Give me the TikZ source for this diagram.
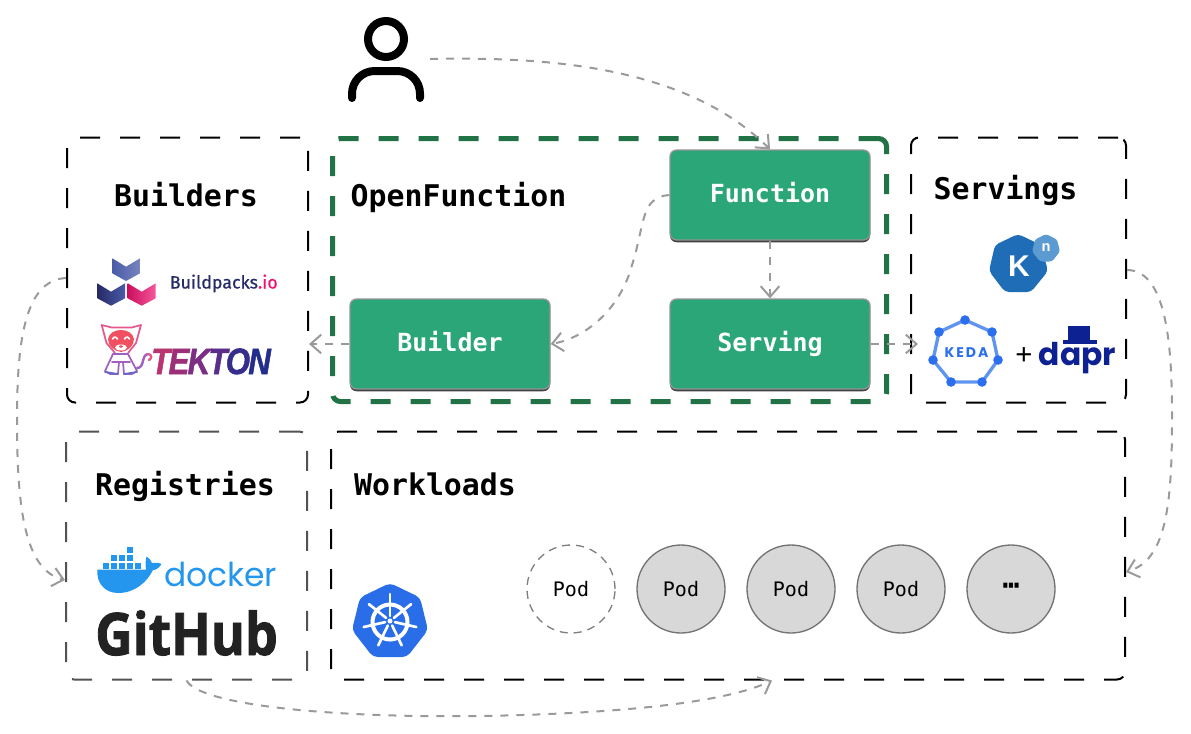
\documentclass[tikz,border=0pt]{standalone}
\usepackage{fontspec}
\setmainfont{DejaVu Sans}
\setmonofont{DejaVu Sans Mono}
\newfontfamily\popp{Poppins}
\newfontfamily\fira[FakeBold=0.6]{Fira Sans}
\newfontfamily\opens{Open Sans}
\newfontfamily\ghf[BoldFeatures={FakeBold=1.6}]{Open Sans}
\newfontfamily\libs{Liberation Sans}
\newfontfamily\tekf[BoldItalicFeatures={FakeBold=1.5}]{Liberation Sans}
\usetikzlibrary{arrows.meta,shadows}
\definecolor{greenfill}{HTML}{2BA678}
\definecolor{greendash}{HTML}{217346}
\definecolor{flowgray}{HTML}{9A9A9A}
\definecolor{podgray}{HTML}{D8D8D8}
\definecolor{kblue}{HTML}{2A6DE8}
\definecolor{knblue}{HTML}{1F6DB6}
\definecolor{knlight}{HTML}{5B9BD2}
\definecolor{kedadot}{HTML}{2C6FEE}
\definecolor{kedaline}{HTML}{5F95EE}
\definecolor{daprblue}{HTML}{0D2192}
\definecolor{dockerblue}{HTML}{2496ED}
\definecolor{ghblack}{HTML}{222222}
\definecolor{bpnavy}{HTML}{262A66}
\definecolor{bpmid}{HTML}{4A5BA8}
\definecolor{bppink}{HTML}{F0106F}
\definecolor{catpink}{HTML}{E4588C}
\definecolor{catred}{HTML}{F0505F}
\definecolor{catviolet}{HTML}{A060C0}
\definecolor{catblue}{HTML}{6468C8}
\tikzset{
  region/.style={draw=black,line width=1.5pt,dash pattern=on 15pt off 15pt,rounded corners=6pt,inner sep=0pt,anchor=north west},
  title/.style={font=\ttfamily\bfseries\fontsize{22.4}{24}\selectfont,inner sep=0pt,text height=15pt,text depth=0pt},
  task/.style={draw=black!42,line width=1pt,fill=greenfill,rounded corners=5pt,minimum width=150pt,minimum height=67.5pt,
    text=white,font=\ttfamily\bfseries\fontsize{18.7}{20}\selectfont,text height=10.5pt,text depth=0pt,
    drop shadow={shadow xshift=0pt,shadow yshift=-1.7pt,fill=black!75,opacity=1}},
  pod/.style={circle,draw=black!55,line width=1pt,fill=podgray,minimum size=66pt,inner sep=0pt,font=\ttfamily\fontsize{15}{16}\selectfont},
  flow/.style={draw=flowgray,line width=1.5pt,dash pattern=on 6pt off 6pt,-{Straight Barb[length=8pt,width=14pt,line width=1.5pt]}},
  person/.style={draw=black,line width=6pt,line cap=round},
}
\begin{document}
\begin{tikzpicture}[x=0.75pt,y=-0.75pt]
\useasboundingbox (0,0) rectangle (1191,733);
% regions
\node[region,minimum width=180.75pt,minimum height=198.75pt] (builders) at (66,136.5) {};
\node[region,minimum width=161.25pt,minimum height=198.75pt] (servings) at (910,136.5) {};
\node[region,draw=black!68,minimum width=180.75pt,minimum height=186pt] (registries) at (65,430.5) {};
\node[region,minimum width=595.5pt,minimum height=186pt] (workloads) at (330,430.5) {};
\node[region,draw=greendash,line width=3.8pt,minimum width=415.5pt,minimum height=197.25pt] (openfunction) at (330,136) {};
% person
\draw[person] (386,39) circle[radius=18];
\draw[person,rounded corners=17pt] (352,98) -- (352,71) -- (420,71) -- (420,98);
\coordinate (personout) at (430,59);
% titles
\node[title] (tbuilders) at (186,196) {Builders};
\node[title] (topenfunction) at (458.5,196) {OpenFunction};
\node[title] (tservings) at (1005.5,189) {Servings};
\node[title] (tregistries) at (185,485) {Registries};
\node[title] (tworkloads) at (435,485) {Workloads};
% green tasks
\node[task] (function) at (770,195) {Function};
\node[task] (serving) at (770,344) {Serving};
\node[task] (builder) at (450,344) {Builder};
% connectors
\draw[flow] (personout) .. controls (560,56) and (690,70) .. (function.north);
\draw[flow] (function.west) .. controls (640,197) and (645,225) .. (632,265) .. controls (620,310) and (585,338) .. (builder.east);
\draw[flow] (function.south) -- (serving.north);
\draw[flow] (builder.west) -- (builders.east |- builder.west);
\draw[flow] (serving.east) -- ([xshift=6pt]servings.west |- serving.east);
\draw[flow] ([yshift=-6pt]builders.west) .. controls (25,280) and (17,340) .. (17,420) .. controls (17,510) and (25,570) .. (registries.west |- 0,580);
\draw[flow] (servings.east) .. controls (1170,270) and (1172,360) .. (1172,420) .. controls (1172,510) and (1165,560) .. (workloads.east |- 0,572);
\draw[flow] (registries.south) .. controls (200,705) and (330,718) .. (480,716) .. controls (600,714) and (720,705) .. (workloads.south -| 772,0);
% pods
\node[pod,fill=white,draw=black!50,dash pattern=on 6pt off 4.5pt] (pod1) at (571,589) {Pod};
\node[pod] (pod2) at (681,589) {Pod};
\node[pod] (pod3) at (791,589) {Pod};
\node[pod] (pod4) at (901,589) {Pod};
\node[pod,font=\ttfamily\bfseries\fontsize{21}{22}\selectfont] (pod5) at (1011,589) {\raisebox{-1.4pt}{⋯}};
% Buildpacks
\path[left color=bpmid,right color=bpmid!75!white] (112.3,258.3) -- (126,266.7) -- (140,258.3) -- (140,273.3) -- (126,281) -- (112.3,273.3) -- cycle;
\path[left color=bpnavy,right color=bpmid] (97.3,283.3) -- (111,291.7) -- (125,283.3) -- (125,298.3) -- (111,305.7) -- (97.3,298.3) -- cycle;
\path[left color=bppink!85!black,right color=bppink!70!white] (127.7,283.3) -- (141.7,291.7) -- (155.7,283.3) -- (155.7,298.3) -- (141.7,305.7) -- (127.7,298.3) -- cycle;
\node[anchor=base west,inner sep=0pt,font=\fira\fontsize{13.4}{16}\selectfont] (buildpacks) at (169.5,288.5) {\textcolor{bpnavy}{Buildpacks}\textcolor{bppink}{.io}};
% Tekton cat
\begin{scope}[line width=1.3pt,line join=round,line cap=round]
\draw[catpink] (115,353) -- (106.5,343) -- (101.7,325) -- (111.7,327.5) -- (131.7,327.5) -- (141,325) -- (136,343) -- (128,353);
\path[fill=catred] (108,339) .. controls (109,333) and (115,330) .. (121,330) .. controls (127,330) and (133,333) .. (134,339) .. controls (134,346) and (128,351) .. (121,352) .. controls (114,351) and (108,346) .. (108,339) -- cycle;
\fill[white] (121,347.5) ellipse[x radius=6,y radius=3];
\fill[catred] (121,346.5) ellipse[x radius=2,y radius=1.2];
\draw[white,line width=1.2pt] (112.5,339) .. controls (114,336.5) and (116,336.5) .. (117.5,339) (124.5,339) .. controls (126,336.5) and (128,336.5) .. (129.5,339);
\draw[catviolet] (113,354) -- (105,371) -- (110,374) -- (118,374) -- (119,362) (128,354) -- (137,371) -- (132,374) -- (124,374) -- (123,362);
\draw[catviolet] (113,354) -- (128,354) (112,362) -- (130,362);
\draw[catblue] (105,372) -- (118,374) (124,374) -- (137,372);
\draw[catviolet,line width=1.8pt] (137,368) .. controls (145,368) and (141,355) .. (148,354);
\draw[catpink,line width=1.8pt] (148,354) .. controls (152,354) and (152,359) .. (149,360);
\end{scope}
\node[anchor=base west,inner sep=0pt,xscale=.85,font=\tekf\bfseries\itshape\fontsize{27.5}{28}\selectfont] (tekton) at (151,374)
  {\textcolor[HTML]{B8336F}{T}\kern-1.5pt\textcolor[HTML]{9C3078}{E}\kern-1.5pt\textcolor[HTML]{7C2E85}{K}\kern-1.5pt\textcolor[HTML]{5A2D8A}{T}\kern-1.5pt\textcolor[HTML]{362D8C}{O}\kern-1.5pt\textcolor[HTML]{232D8C}{N}};
% Knative
\fill[knblue,rounded corners=3pt] (1018,234) -- (1041,245) -- (1048,271) -- (1031,292) -- (1005,292) -- (989,271) -- (995,245) -- cycle;
\node[inner sep=0pt,text=white,font=\libs\bfseries\fontsize{22.5}{24}\selectfont] (kn) at (1019,266) {K};
\fill[knlight,rounded corners=2pt] (1046,234) -- (1057,239.5) -- (1060,251.5) -- (1052,261.5) -- (1040,261.5) -- (1032,251.5) -- (1035,239.5) -- cycle;
\node[inner sep=0pt,text=white,font=\libs\bfseries\fontsize{11}{11}\selectfont] (knn) at (1046,248) {n};
% KEDA
\draw[kedaline,line width=2.5pt] (965,320) -- (992,332) -- (998,360) -- (982,382) -- (951,382) -- (933,360) -- (939,332) -- cycle;
\foreach \p in {(965,320),(992,332),(998,360),(982,382),(951,382),(933,360),(939,332)} \fill[kedadot] \p circle[radius=4.8];
\node[inner sep=0pt,text=kedadot,font=\popp\bfseries\fontsize{10.5}{12}\selectfont] (keda) at (966.5,353) {K\kern1.5pt E\kern1.5pt D\kern1.5pt A};
\node[inner sep=0pt,font=\libs\fontsize{22}{22}\selectfont] (plus) at (1024,356) {+};
% dapr
\fill[daprblue] (1068,326) rectangle (1090,340);
\fill[daprblue] (1063,340) rectangle (1097,343.5);
\node[anchor=base west,inner sep=0pt,text=daprblue,font=\popp\bfseries\fontsize{23.5}{24}\selectfont] (dapr) at (1038.5,365.5) {dapr};
% Docker
\foreach \x/\y in {102.7/562.5,110.7/562.5,118.7/562.5,126.7/562.5,134.7/562.5,110.7/554.5,118.7/554.5,126.7/554.5,126.7/547}
  \fill[dockerblue] (\x,\y) rectangle ++(6.6,6.2);
\fill[dockerblue] (97.5,569.5) -- (146,569.5) .. controls (145,563) and (146,559) .. (146.5,556.5) .. controls (149,558) and (151,560) .. (152,563) .. controls (155,562.5) and (159,562.5) .. (161.5,564) .. controls (159,568) and (156,570) .. (153,570) .. controls (147,582) and (135,593) .. (118,593) .. controls (105,593) and (96,583) .. (97.5,569.5) -- cycle;
\node[anchor=base west,inner sep=0pt,text=dockerblue,font=\popp\fontsize{24.7}{26}\selectfont] (docker) at (164,586) {docker};
% GitHub
\node[anchor=base west,inner sep=0pt,xscale=.885,text=ghblack,font=\ghf\bfseries\fontsize{44}{46}\selectfont] (github) at (95,655) {GitHub};
% Kubernetes
\fill[kblue,rounded corners=3.5pt] (390,583) -- (420,597.5) -- (428,630) -- (407,657) -- (373,657) -- (352,630) -- (360,597.5) -- cycle;
\begin{scope}[white,line cap=round]
\draw[line width=3pt] (390,622) circle[radius=17.5];
\fill (390,621) circle[radius=2.5];
\foreach \a in {90,141.4,192.9,244.3,295.7,347.1,38.6}
  \draw[line width=2pt] (390,621) ++({5*cos(\a)},{-5*sin(\a)}) -- ++({22*cos(\a)},{-22*sin(\a)});
\end{scope}
\end{tikzpicture}
\end{document}
